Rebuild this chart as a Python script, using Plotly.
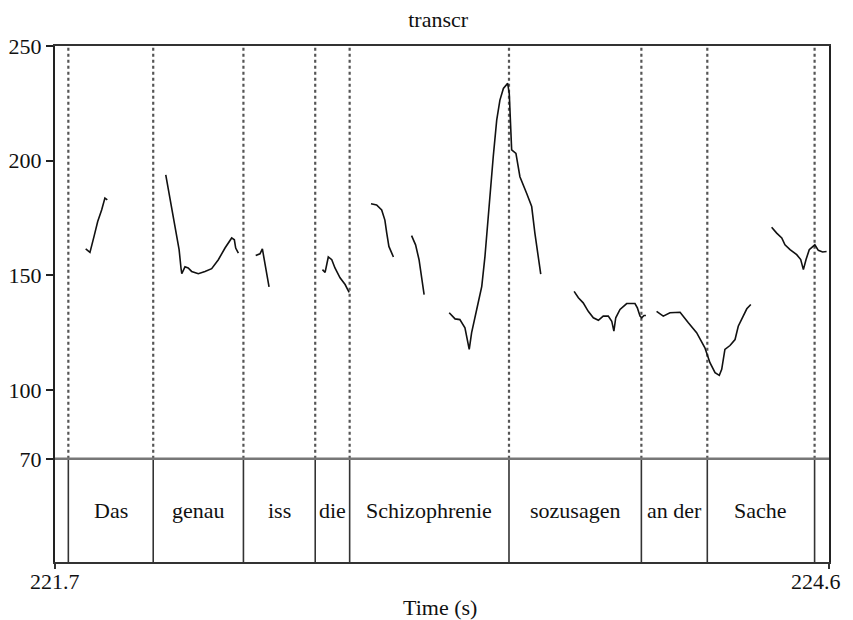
import plotly.graph_objects as go

# ---- data ----
title_text = "transcr"
x_title = "Time (s)"
x_ticks = [221.7, 224.6]
y_ticks = [70, 100, 150, 200, 250]
tier_floor = 70

boundaries = [221.750, 222.068, 222.406, 222.675, 222.804, 223.401, 223.897, 224.144, 224.546]
words = ["Das", "genau", "iss", "die", "Schizophrenie", "sozusagen", "an der", "Sache"]

das_t = [221.815, 221.831, 221.847, 221.860, 221.875, 221.887, 221.896]
das_f = [161.5, 160.0, 167.3, 173.5, 178.6, 183.7, 182.9]

genau_t = [222.115, 222.131, 222.150, 222.165, 222.172, 222.175, 222.187, 222.199, 222.212,
           222.237, 222.262, 222.287, 222.312, 222.337, 222.362, 222.372, 222.377, 222.387]
genau_f = [193.8, 183.0, 169.9, 161.2, 153.2, 150.7, 153.7, 153.2, 151.7,
           150.7, 151.7, 152.9, 156.8, 161.9, 166.3, 165.5, 161.9, 159.7]

iss_t = [222.452, 222.468, 222.477, 222.482, 222.489, 222.497, 222.502]
iss_f = [158.6, 159.4, 161.5, 158.3, 152.5, 147.4, 145.0]

die_t = [222.702, 222.712, 222.724, 222.737, 222.749, 222.768, 222.787, 222.802]
die_f = [152.5, 151.3, 158.0, 156.8, 153.2, 148.9, 146.0, 142.6]

schi1_t = [222.884, 222.905, 222.924, 222.936, 222.943, 222.951, 222.968]
schi1_f = [181.2, 180.7, 178.5, 174.1, 168.4, 162.6, 158.0]

schi2_t = [223.036, 223.051, 223.064, 223.074, 223.083]
schi2_f = [167.3, 163.3, 156.8, 149.6, 141.6]

schi3_t = [223.177, 223.199, 223.217, 223.236, 223.252, 223.261, 223.280, 223.299, 223.311,
           223.323, 223.336, 223.342, 223.355, 223.367, 223.380, 223.396, 223.402, 223.407,
           223.411, 223.427, 223.442, 223.467, 223.486, 223.498, 223.511, 223.520]
schi3_f = [133.7, 131.0, 130.7, 127.1, 117.7, 125.0, 135.1, 145.2, 158.3,
           175.7, 191.6, 201.7, 217.7, 226.4, 231.5, 233.7, 229.3, 217.7,
           204.7, 203.2, 193.0, 185.8, 180.0, 168.4, 158.3, 150.5]

sozu_t = [223.645, 223.661, 223.679, 223.698, 223.717, 223.736, 223.754, 223.773, 223.786,
          223.794, 223.801, 223.817, 223.842, 223.873, 223.882, 223.892, 223.898, 223.907, 223.914]
sozu_f = [143.0, 140.2, 138.0, 134.3, 131.5, 130.4, 132.2, 132.2, 130.0,
          125.7, 131.5, 135.1, 137.7, 137.7, 135.8, 132.2, 131.5, 132.5, 132.5]

ander_t = [223.954, 223.979, 224.004, 224.042, 224.073, 224.104, 224.135, 224.154, 224.173,
           224.189, 224.198, 224.210, 224.229, 224.248, 224.260, 224.273, 224.292, 224.307]
ander_f = [134.3, 132.2, 133.7, 133.9, 129.3, 125.0, 118.4, 111.9, 107.6,
           106.4, 109.0, 117.7, 119.4, 122.0, 127.8, 130.7, 135.4, 137.3]

sache_t = [224.385, 224.404, 224.423, 224.435, 224.454, 224.479, 224.494, 224.504, 224.514,
           224.526, 224.547, 224.560, 224.576, 224.591]
sache_f = [171.0, 168.4, 166.3, 163.3, 161.2, 159.0, 156.9, 152.5, 156.9,
           161.2, 163.3, 160.9, 160.2, 160.4]

segments = [(das_t, das_f), (genau_t, genau_f), (iss_t, iss_f), (die_t, die_f),
            (schi1_t, schi1_f), (schi2_t, schi2_f), (schi3_t, schi3_f),
            (sozu_t, sozu_f), (ander_t, ander_f), (sache_t, sache_f)]

# ---- figure ----
FONT = "Liberation Serif, Times New Roman, serif"
FS = 22
y_bottom = 25

fig = go.Figure()
for t, f in segments:
    fig.add_trace(go.Scatter(x=t, y=f, mode="lines",
                             line=dict(color="#111111", width=1.6),
                             showlegend=False, hoverinfo="skip"))

shapes = []
for b in boundaries:
    shapes.append(dict(type="line", xref="x", yref="y", x0=b, x1=b, y0=tier_floor, y1=250,
                       line=dict(color="#555555", width=2.2, dash="dot"), layer="below"))
    shapes.append(dict(type="line", xref="x", yref="y", x0=b, x1=b, y0=y_bottom, y1=tier_floor,
                       line=dict(color="#333333", width=1.6)))
shapes.append(dict(type="line", xref="paper", yref="y", x0=0, x1=1, y0=tier_floor, y1=tier_floor,
                   line=dict(color="#777777", width=2.5)))
fig.update_layout(shapes=shapes)

annotations = []
for i, w in enumerate(words):
    mid = (boundaries[i] + boundaries[i + 1]) / 2
    annotations.append(dict(x=mid, y=(tier_floor + y_bottom) / 2, xref="x", yref="y",
                            text=w, showarrow=False,
                            font=dict(family=FONT, size=FS, color="#111111")))
# x tick labels and axis title placed as text below the axis
last = len(x_ticks) - 1
for k, v in enumerate(x_ticks):
    annotations.append(dict(x=v, y=0, xref="x", yref="paper", text=str(v), showarrow=False,
                            xanchor=("right" if k == last else "center"),
                            xshift=(14 if k == last else 0),
                            yanchor="middle", yshift=-19,
                            font=dict(family=FONT, size=FS, color="#111111")))
annotations.append(dict(x=0.497, y=0, xref="paper", yref="paper", text=x_title, showarrow=False,
                        xanchor="center", yanchor="middle", yshift=-45,
                        font=dict(family=FONT, size=FS, color="#111111")))
fig.update_layout(annotations=annotations)

fig.update_layout(
    width=845, height=612,
    margin=dict(l=47, r=24, t=38, b=58, autoexpand=False),
    paper_bgcolor="white", plot_bgcolor="white",
    title=dict(text=title_text, x=0.495, xanchor="center", xref="paper",
               y=0.981, yanchor="middle", yref="container", automargin=False,
               font=dict(family=FONT, size=FS, color="#111111")),
    font=dict(family=FONT, size=FS, color="#111111"),
)
fig.update_xaxes(range=[221.7, 224.6], tickvals=x_ticks, showticklabels=False,
                 automargin=False,
                 showgrid=False, zeroline=False, showline=True, mirror=True,
                 linecolor="#333333", linewidth=2, ticks="outside", ticklen=5,
                 tickcolor="#333333", tickwidth=2)
fig.update_yaxes(range=[y_bottom, 250], tickvals=y_ticks, ticktext=[str(v) for v in y_ticks],
                 automargin=False,
                 showgrid=False, zeroline=False, showline=True, mirror=True,
                 linecolor="#222222", linewidth=2, ticks="outside", ticklen=7,
                 tickcolor="#222222", tickwidth=2,
                 tickfont=dict(family=FONT, size=FS))

fig.write_html("out.html")
